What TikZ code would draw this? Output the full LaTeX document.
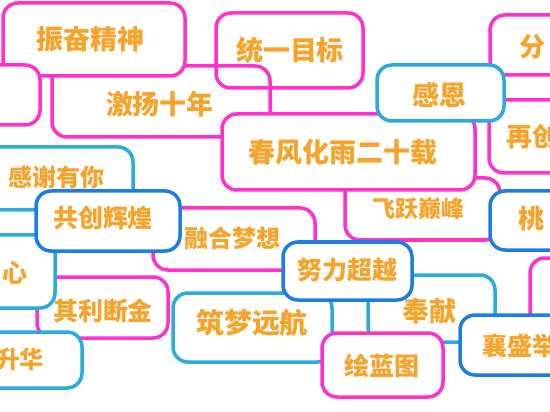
\documentclass[tikz,border=0pt]{standalone}
\usepackage{fontspec}
\newfontfamily\cjk{Noto Sans CJK SC}
\definecolor{mag}{RGB}{255,48,204}
\definecolor{lblue}{RGB}{41,171,226}
\definecolor{dblue}{RGB}{28,125,228}
\definecolor{org}{RGB}{247,162,40}
\tikzset{
  bx/.style={rectangle, rounded corners=15pt, line width=3.5pt, fill=white, inner sep=0pt, outer sep=0pt},
  magb/.style={bx, draw=mag},
  lbb/.style={bx, draw=lblue},
  dbb/.style={bx, draw=dblue},
  lbl/.style={text=org, inner sep=0pt, font=\cjk\bfseries\fontsize{#1}{#1}\selectfont},
  lbl/.default=26
}
\begin{document}
\begin{tikzpicture}[x=1pt,y=-1pt]
\useasboundingbox (0,0) rectangle (550,412);
% top area
\node[magb, minimum width=218pt, minimum height=71pt] (bC) at (161,101.5) {};
\node[lbl=27] (tC) at (160,104) {激扬十年};
\node[magb, minimum width=182pt, minimum height=73pt] (bA) at (94,39.5) {};
\node[lbl=27] (tA) at (91,39) {振奋精神};
\node[magb, minimum width=60pt, minimum height=60pt] (bB) at (10,95) {};
\node[magb, fill=none, minimum width=147pt, minimum height=75pt] (bD) at (289.5,50.5) {};
\node[lbl=27] (tD) at (290,50) {统一目标};
\node[magb, minimum width=130pt, minimum height=60pt] (bE) at (555,45) {};
\node[lbl=26] (tE) at (532,47) {分};
\node[magb, minimum width=131pt, minimum height=73pt] (bG) at (554.5,136.5) {};
\node[lbl=26, anchor=west] (tG) at (506,137) {再创};
\node[magb, minimum width=155pt, minimum height=62pt] (bH) at (422.5,209) {};
\node[lbl=23] (tH) at (418,209) {飞跃巅峰};
\node[magb, minimum width=253pt, minimum height=76pt] (bI) at (348.5,152) {};
\node[lbl=27] (tI) at (343,152) {春风化雨二十载};
\node[lbb, minimum width=127pt, minimum height=56pt] (bF) at (440.5,93) {};
\node[lbl=27] (tF) at (439,95) {感恩};
\node[dbb, minimum width=130pt, minimum height=59pt] (bJ) at (555,220.5) {};
\node[lbl=26] (tJ) at (531,219) {桃};
% left / middle
\node[lbb, minimum width=153pt, minimum height=63pt] (bK) at (56.5,178.5) {};
\node[lbl=24] (tK) at (57,177) {感谢有你};
\node[magb, minimum width=162pt, minimum height=62pt] (bM) at (234,239) {};
\node[lbl=24] (tM) at (232,238) {融合梦想};
\node[magb, minimum width=131pt, minimum height=61pt] (bO) at (102.5,307.5) {};
\node[lbl=25] (tO) at (103,311) {其利断金};
\node[lbb, minimum width=75pt, minimum height=73pt] (bL) at (17.5,271.5) {};
\node[lbl=25] (tL) at (15,273) {心};
\node[dbb, minimum width=144pt, minimum height=60pt] (bN) at (108,221) {};
\node[lbl=25] (tN) at (103,218) {共创辉煌};
\node[lbb, minimum width=102pt, minimum height=56pt] (bP) at (31,360) {};
\node[lbl=24] (tP) at (20,359) {升华};
% bottom
\node[lbb, minimum width=159pt, minimum height=69pt] (bQ) at (252.5,327.5) {};
\node[lbl=28] (tQ) at (252,323) {筑梦远航};
\node[lbb, minimum width=127pt, minimum height=67pt] (bR) at (431.5,308.5) {};
\node[lbl=27] (tR) at (429,311) {奉献};
\node[magb, minimum width=90pt, minimum height=92pt] (bS) at (575,304) {};
\node[dbb, minimum width=129pt, minimum height=58pt] (bT) at (347.5,271) {};
\node[lbl=25] (tT) at (347.5,270.5) {努力超越};
\node[magb, minimum width=121pt, minimum height=64pt] (bU) at (382.5,365) {};
\node[lbl=25] (tU) at (382,366) {绘蓝图};
\node[dbb, minimum width=160pt, minimum height=60pt] (bV) at (540,345) {};
\node[lbl=25, anchor=west] (tV) at (482,346) {襄盛举};
\end{tikzpicture}
\end{document}
